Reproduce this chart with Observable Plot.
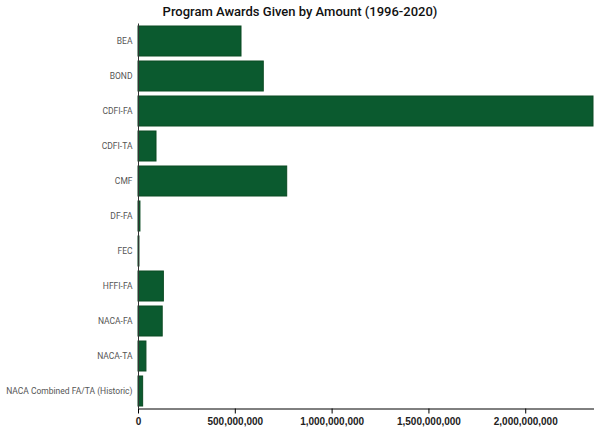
<!DOCTYPE html>
<html>
<head>
<meta charset="utf-8">
<script src="https://cdn.jsdelivr.net/npm/d3@7"></script>
<script src="https://cdn.jsdelivr.net/npm/@observablehq/plot@0.6"></script>
<style>
  html, body { margin: 0; padding: 0; background: #fff; }
  #title { width: 600px; height: 20px; line-height: 20px; text-align: center; font-family: Roboto, sans-serif; font-weight: 500; font-size: 13px; color: #111; padding-top: 2px; box-sizing: border-box; }
</style>
</head>
<body>
<div id="title">Program Awards Given by Amount (1996-2020)</div>
<div id="chart"></div>
<script>
const programs = ["BEA", "BOND", "CDFI-FA", "CDFI-TA", "CMF", "DF-FA", "FEC", "HFFI-FA", "NACA-FA", "NACA-TA", "NACA Combined FA/TA (Historic)"];
const amounts = [532e6, 647e6, 2350e6, 93e6, 768e6, 10e6, 5e6, 131e6, 125e6, 41e6, 24e6];
const xTicks = [0, 500e6, 1000e6, 1500e6, 2000e6];

const data = programs.map((p, i) => ({program: p, amount: amounts[i]}));

const chart = Plot.plot({
  width: 600,
  height: 409,
  marginTop: 3.5,
  marginBottom: 20.5,
  marginLeft: 138,
  marginRight: 7,
  style: {fontFamily: "Roboto, sans-serif", fontSize: "10px", background: "#fff"},
  x: {domain: [0, 2350e6], label: null},
  y: {domain: programs, label: null, paddingInner: 0.14, paddingOuter: 0.07},
  marks: [
    Plot.barX(data, {y: "program", x: "amount", fill: "#0b5a2f", stroke: "#0a4a22", strokeWidth: 1}),
    Plot.frame({anchor: "bottom", stroke: "#000"}),
    Plot.axisX({ticks: xTicks, tickFormat: d3.format(","), tickSize: 5, label: null, fontFamily: "'Liberation Sans', Arial, sans-serif", fontWeight: 600, fill: "#222"}),
    Plot.axisY({tickSize: 0, tickPadding: 6, label: null, fill: "#555", fontSize: 8.5}),
    Plot.ruleX([0], {stroke: "#333"})
  ]
});
document.getElementById("chart").appendChild(chart);
</script>
</body>
</html>
